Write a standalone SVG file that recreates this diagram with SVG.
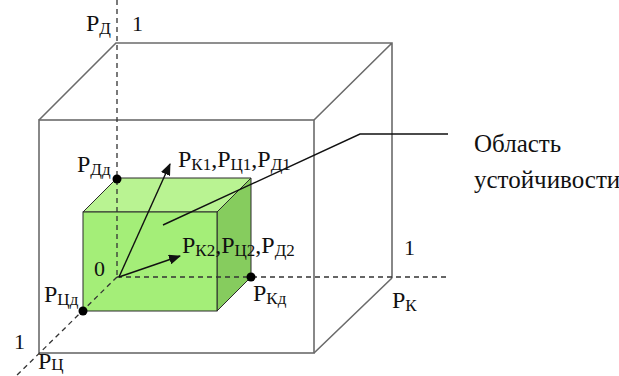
<svg xmlns="http://www.w3.org/2000/svg" width="619" height="376" viewBox="0 0 619 376">
<style>
.cube{fill:none;stroke:#6b6b6b;stroke-width:1.6}
.axis{fill:none;stroke:#333;stroke-width:1.3;stroke-dasharray:5,4}
text{font-family:"Times New Roman","Liberation Serif",Tinos,"DejaVu Serif",serif;font-size:24px;fill:#111}
.s{font-size:17px}
.n{font-size:22px}
.c{font-size:25px}
.g{stroke:#2a2a2a;stroke-width:1}
.dot{fill:#000}
.arr{stroke:#111;stroke-width:1.4;fill:none}
</style>
<defs>
<marker id="ah" markerWidth="12" markerHeight="10" refX="11" refY="5" orient="auto" markerUnits="userSpaceOnUse">
<path d="M0,0 L12,5 L0,10 Z" fill="#111"/>
</marker>
</defs>
<rect width="619" height="376" fill="#fff"/>
<g id="outer-cube">
<rect class="cube" x="39" y="120" width="275" height="233"/>
<path class="cube" d="M39,120 L116,43 L392,43 L392,278 M314,120 L392,43 M314,353 L392,278"/>
</g>
<g id="green-box">
<path class="g" d="M83,212 L117,178 L251,178 L217,212 Z" fill="#b9f392"/>
<path class="g" d="M217,212 L251,178 L251,277 L217,311 Z" fill="#86cc5e"/>
<rect class="g" x="83" y="212" width="134" height="99" fill="#a4ee78"/>
</g>
<g id="axes">
<line class="axis" x1="117" y1="0" x2="117" y2="277"/>
<line class="axis" x1="117" y1="277" x2="450" y2="277"/>
<line class="axis" x1="117" y1="277" x2="10" y2="382"/>
</g>
<g id="connectors">
<line class="arr" x1="119" y1="277" x2="170" y2="164" marker-end="url(#ah)"/>
<line class="arr" x1="119" y1="277" x2="180" y2="256" marker-end="url(#ah)"/>
<path class="arr" d="M163,225 L360,134 L448,134"/>
</g>
<g id="points">
<circle class="dot" cx="117" cy="179" r="4.5"/>
<circle class="dot" cx="251" cy="277" r="4.5"/>
<circle class="dot" cx="83" cy="311" r="4.5"/>
</g>
<g id="labels">
<text x="86" y="31">P<tspan class="s" dy="3">Д</tspan></text>
<text class="n" x="132" y="31">1</text>
<text x="77" y="172">P<tspan class="s" dy="3">Дд</tspan></text>
<text x="178" y="167">P<tspan class="s" dy="3">К1</tspan><tspan dy="-3">,P</tspan><tspan class="s" dy="3">Ц1</tspan><tspan dy="-3">,P</tspan><tspan class="s" dy="3">Д1</tspan></text>
<text x="182" y="253">P<tspan class="s" dy="3">К2</tspan><tspan dy="-3">,P</tspan><tspan class="s" dy="3">Ц2</tspan><tspan dy="-3">,P</tspan><tspan class="s" dy="3">Д2</tspan></text>
<text class="n" x="94" y="276">0</text>
<text x="44" y="302">P<tspan class="s" dy="3">Цд</tspan></text>
<text x="253" y="301">P<tspan class="s" dy="3">Кд</tspan></text>
<text class="n" x="404" y="255">1</text>
<text x="392" y="308">P<tspan class="s" dy="3">К</tspan></text>
<text class="n" x="14" y="349">1</text>
<text x="38" y="369">P<tspan class="s" dy="1">Ц</tspan></text>
<text class="c" x="474" y="152">Область</text>
<text class="c" x="474" y="188">устойчивости</text>
</g>
</svg>
